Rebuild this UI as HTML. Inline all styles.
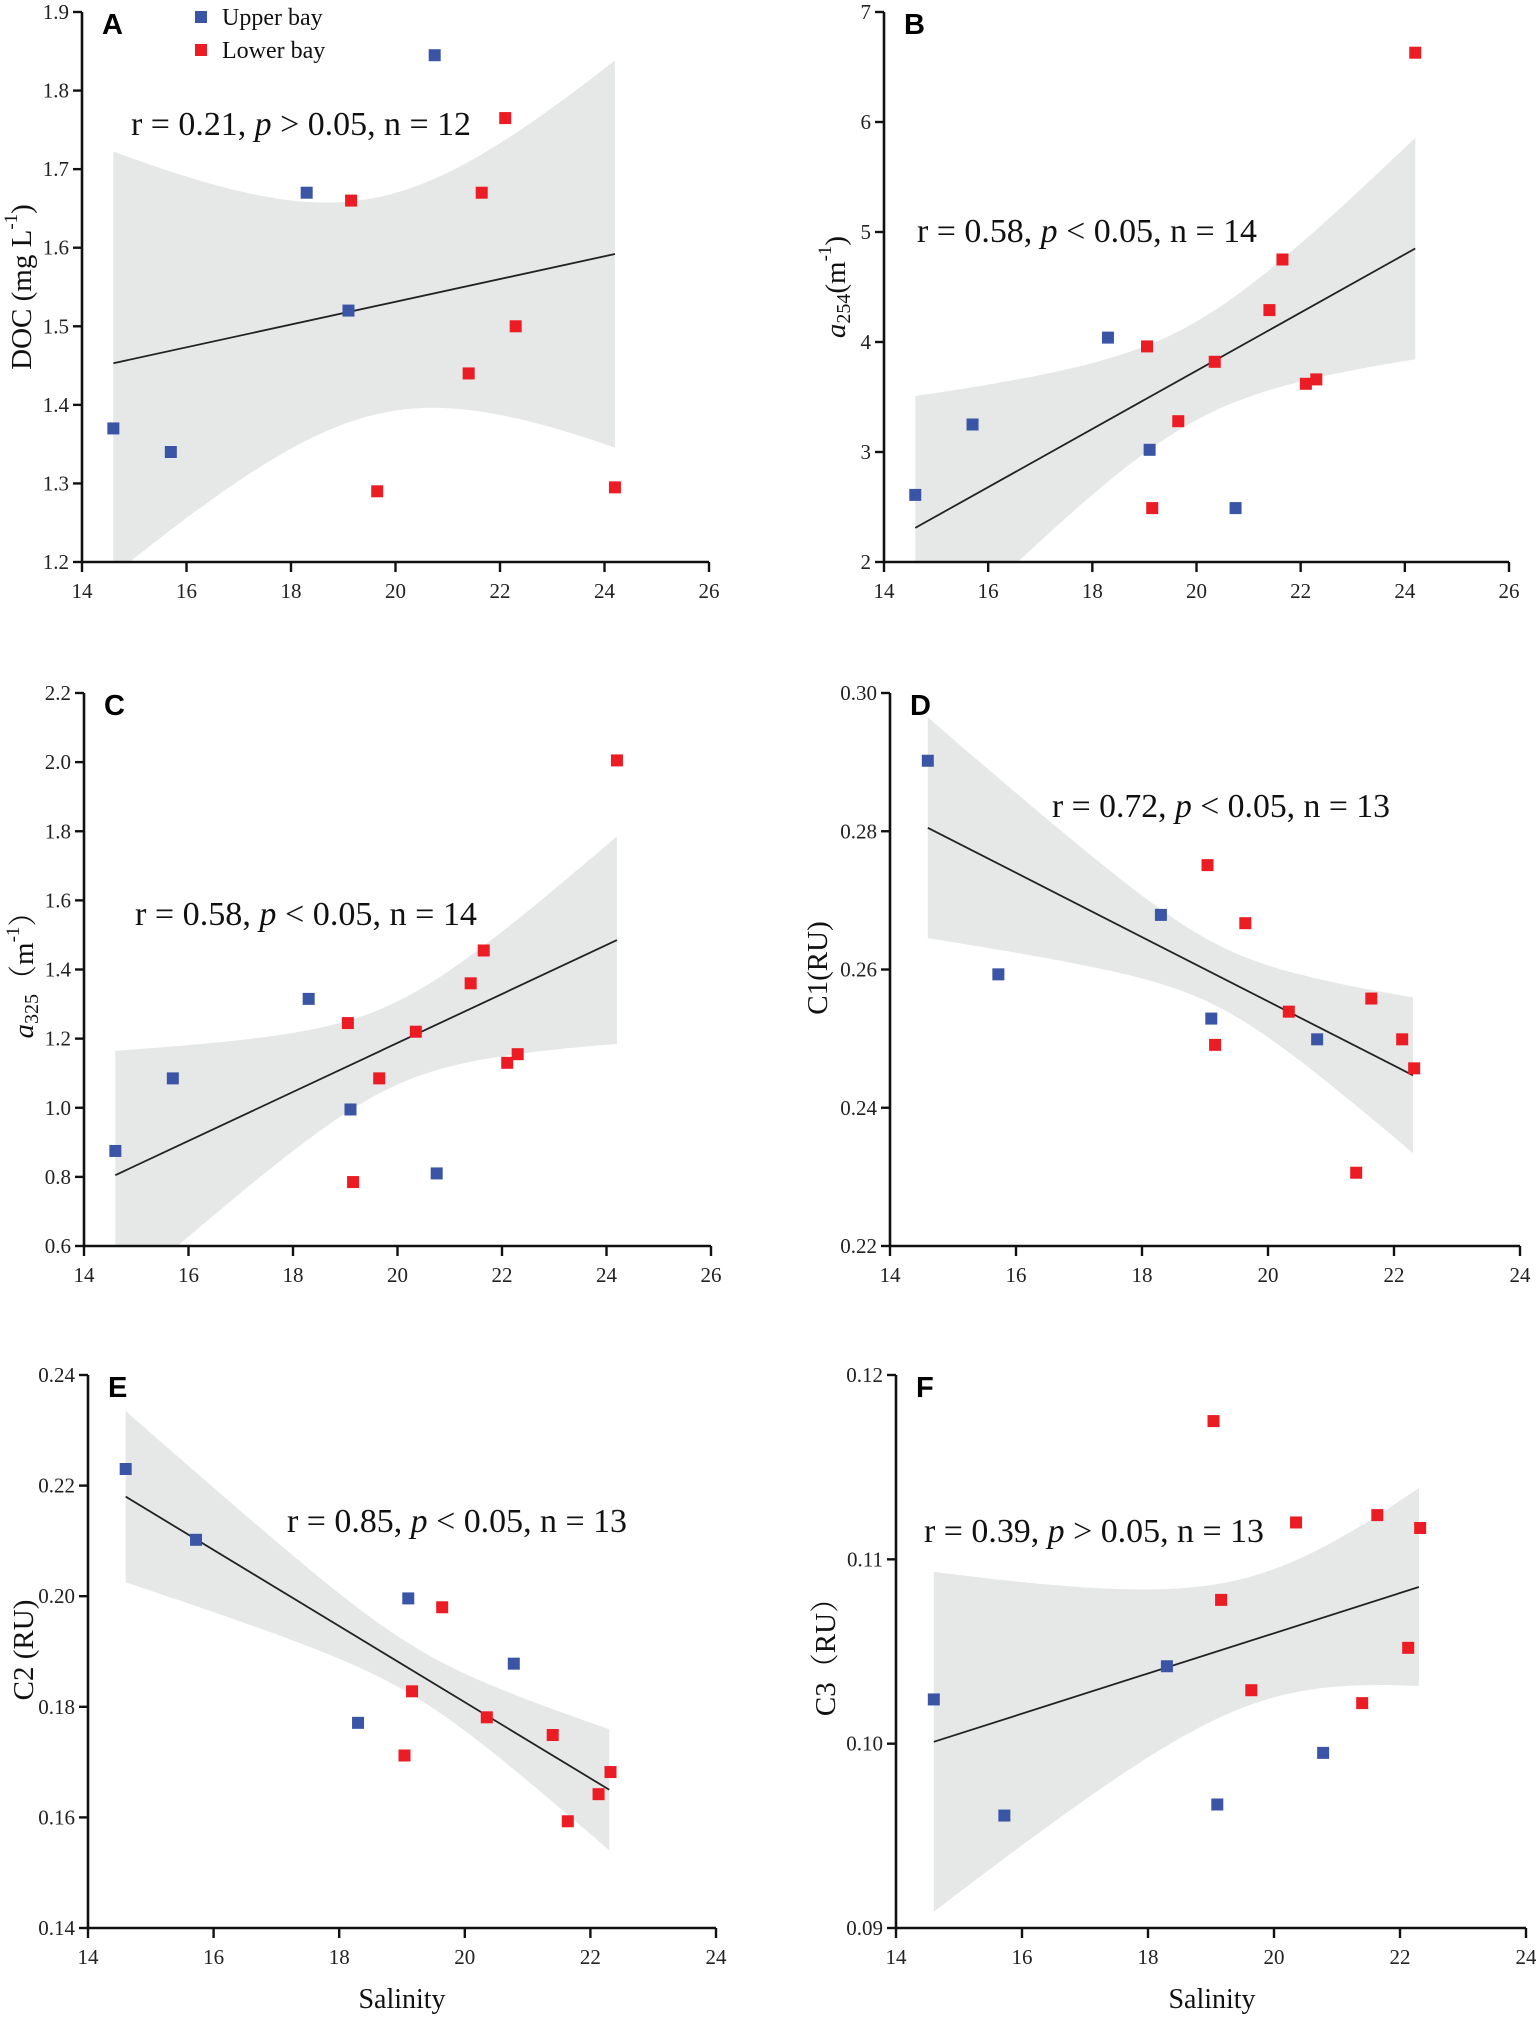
<!DOCTYPE html>
<html><head><meta charset="utf-8">
<style>
html,body{margin:0;padding:0;background:#fff;}
svg{display:block;}
.serif{font-family:"Liberation Serif","Noto Serif CJK SC",serif;}
.sans{font-family:"Liberation Sans",sans-serif;}
</style></head>
<body>
<svg id="fig" width="1536" height="2017" viewBox="0 0 1536 2017" xmlns="http://www.w3.org/2000/svg"></svg>
<script>
// ---- Data ----
// A: DOC
const aUpperSal = [14.6, 15.7, 18.3, 19.1, 20.75];
const aUpperVal = [1.37, 1.34, 1.67, 1.52, 1.845];
const aLowerSal = [19.15, 19.65, 21.4, 21.65, 22.1, 22.3, 24.2];
const aLowerVal = [1.66, 1.29, 1.44, 1.67, 1.765, 1.50, 1.295];
const aFit = [1.453, 1.592];
const aBand = [19.7, 0.019, 0.00206];

// B: a254
const bUpperSal = [14.6, 15.7, 18.3, 19.1, 20.75];
const bUpperVal = [2.61, 3.25, 4.04, 3.02, 2.49];
const bLowerSal = [19.05, 19.15, 19.65, 20.35, 21.4, 21.65, 22.1, 22.3, 24.2];
const bLowerVal = [3.96, 2.49, 3.28, 3.82, 4.29, 4.75, 3.62, 3.66, 6.63];
const bFit = [2.31, 4.85];
const bBand = [19.9, 0.2, 0.044];

// C: a325
const cUpperSal = [14.6, 15.7, 18.3, 19.1, 20.75];
const cUpperVal = [0.875, 1.085, 1.315, 0.995, 0.81];
const cLowerSal = [19.05, 19.15, 19.65, 20.35, 21.4, 21.65, 22.1, 22.3, 24.2];
const cLowerVal = [1.245, 0.785, 1.085, 1.22, 1.36, 1.455, 1.13, 1.155, 2.005];
const cFit = [0.805, 1.485];
const cBand = [19.9, 0.0144, 0.0041];

// D: C1
const dUpperSal = [14.6, 15.72, 18.3, 19.1, 20.78];
const dUpperVal = [0.2902, 0.2593, 0.2679, 0.2529, 0.2499];
const dLowerSal = [19.04, 19.16, 19.64, 20.33, 21.4, 21.64, 22.13, 22.32];
const dLowerVal = [0.2751, 0.2491, 0.2667, 0.2539, 0.2306, 0.2558, 0.2499, 0.2457];
const dFit = [0.2805, 0.2447];
const dBand = [19.2, 0.00002, 0.0000111];

// E: C2
const eUpperSal = [14.6, 15.72, 18.3, 19.1, 20.78];
const eUpperVal = [0.223, 0.2102, 0.1771, 0.1996, 0.1878];
const eLowerSal = [19.04, 19.16, 19.64, 20.35, 21.4, 21.64, 22.13, 22.32];
const eLowerVal = [0.1712, 0.1828, 0.198, 0.1781, 0.1749, 0.1593, 0.1642, 0.1682];
const eFit = [0.218, 0.165];
const eBand = [19.2, 0.00002, 0.0000104];

// F: C3
const fUpperSal = [14.6, 15.72, 18.3, 19.1, 20.78];
const fUpperVal = [0.1024, 0.0961, 0.1042, 0.0967, 0.0995];
const fLowerSal = [19.04, 19.16, 19.64, 20.35, 21.4, 21.64, 22.13, 22.32];
const fLowerVal = [0.1175, 0.1078, 0.1029, 0.112, 0.1022, 0.1124, 0.1052, 0.1117];
const fFit = [0.1001, 0.1085];
const fBand = [19.8, 0.000012, 0.0000027];

const xTicksWide = [14, 16, 18, 20, 22, 24, 26];
const xTicksNarrow = [14, 16, 18, 20, 22, 24];
const aYTicks = ["1.2","1.3","1.4","1.5","1.6","1.7","1.8","1.9"];
const bYTicks = ["2","3","4","5","6","7"];
const cYTicks = ["0.6","0.8","1.0","1.2","1.4","1.6","1.8","2.0","2.2"];
const dYTicks = ["0.22","0.24","0.26","0.28","0.30"];
const eYTicks = ["0.14","0.16","0.18","0.20","0.22","0.24"];
const fYTicks = ["0.09","0.10","0.11","0.12"];

const NS = "http://www.w3.org/2000/svg";
const fig = document.getElementById('fig');
function mk(tag, attrs, parent){
  const e = document.createElementNS(NS, tag);
  for (const k in attrs) e.setAttribute(k, attrs[k]);
  (parent||fig).appendChild(e);
  return e;
}

const panels = [
  {id:'a', letter:'A', x0:82, x1:709, yT:12, yB:562, xmin:14, xmax:26, xt:xTicksWide, yt:aYTicks,
   us:aUpperSal, uv:aUpperVal, ls:aLowerSal, lv:aLowerVal, fit:aFit, band:aBand, fx:[14.6,24.2],
   ann:'0.21', op:'>', n:'12', annX:131, annY:135, annW:340},
  {id:'b', letter:'B', x0:884, x1:1509, yT:12, yB:562, xmin:14, xmax:26, xt:xTicksWide, yt:bYTicks,
   us:bUpperSal, uv:bUpperVal, ls:bLowerSal, lv:bLowerVal, fit:bFit, band:bBand, fx:[14.6,24.2],
   ann:'0.58', op:'<', n:'14', annX:917, annY:242, annW:340},
  {id:'c', letter:'C', x0:84, x1:711, yT:693, yB:1246, xmin:14, xmax:26, xt:xTicksWide, yt:cYTicks,
   us:cUpperSal, uv:cUpperVal, ls:cLowerSal, lv:cLowerVal, fit:cFit, band:cBand, fx:[14.6,24.2],
   ann:'0.58', op:'<', n:'14', annX:135, annY:925, annW:342},
  {id:'d', letter:'D', x0:890, x1:1520, yT:693, yB:1246, xmin:14, xmax:24, xt:xTicksNarrow, yt:dYTicks,
   us:dUpperSal, uv:dUpperVal, ls:dLowerSal, lv:dLowerVal, fit:dFit, band:dBand, fx:[14.6,22.3],
   ann:'0.72', op:'<', n:'13', annX:1052, annY:817, annW:338},
  {id:'e', letter:'E', x0:88, x1:716, yT:1375, yB:1928, xmin:14, xmax:24, xt:xTicksNarrow, yt:eYTicks,
   us:eUpperSal, uv:eUpperVal, ls:eLowerSal, lv:eLowerVal, fit:eFit, band:eBand, fx:[14.6,22.3],
   ann:'0.85', op:'<', n:'13', annX:287, annY:1532, annW:340},
  {id:'f', letter:'F', x0:896, x1:1526, yT:1375, yB:1928, xmin:14, xmax:24, xt:xTicksNarrow, yt:fYTicks,
   us:fUpperSal, uv:fUpperVal, ls:fLowerSal, lv:fLowerVal, fit:fFit, band:fBand, fx:[14.6,22.3],
   ann:'0.39', op:'>', n:'13', annX:924, annY:1542, annW:340}
];

const ytitles = {
  a:{x:22,y:287}, b:{x:836,y:287}, c:{x:24,y:968}, d:{x:818,y:968}, e:{x:24,y:1650}, f:{x:826,y:1650}
};

panels.forEach(p=>{
  const g = mk('g', {});
  
  
  const ymin = parseFloat(p.yt[0]), ymax = parseFloat(p.yt[p.yt.length-1]);
  const X = v => p.x0 + (v - p.xmin) / (p.xmax - p.xmin) * (p.x1 - p.x0);
  const Y = v => p.yB - (v - ymin) / (ymax - ymin) * (p.yB - p.yT);
  const fitAt = s => p.fit[0] + (p.fit[1]-p.fit[0]) * (s - p.fx[0]) / (p.fx[1]-p.fx[0]);
  const hw = s => Math.sqrt(p.band[1] + p.band[2] * (s - p.band[0]) * (s - p.band[0]));

  const cp = mk('clipPath', {id:'clip-'+p.id}, g);
  mk('rect', {x:p.x0, y:p.yT - 2, width:p.x1-p.x0, height:p.yB-p.yT+2}, cp);

  let up = [], lo = [];
  const N = 60;
  for (let i=0;i<=N;i++){
    const s = p.fx[0] + (p.fx[1]-p.fx[0]) * i / N;
    up.push(X(s).toFixed(1)+','+Y(fitAt(s)+hw(s)).toFixed(1));
    lo.push(X(s).toFixed(1)+','+Y(fitAt(s)-hw(s)).toFixed(1));
  }
  const band = mk('polygon', {points: up.concat(lo.reverse()).join(' '), fill:'#e6e7e7', 'clip-path':'url(#clip-'+p.id+')'}, g);
  
  

  const ln = mk('line', {x1:X(p.fx[0]), y1:Y(fitAt(p.fx[0])), x2:X(p.fx[1]), y2:Y(fitAt(p.fx[1])), stroke:'#222', 'stroke-width':1.8}, g);
  
  

  p.us.forEach((s,i)=>{
    const r = mk('rect', {x:X(s)-6, y:Y(p.uv[i])-6, width:12, height:12, fill:'#3a55a5'}, g);
    
    
  });
  p.ls.forEach((s,i)=>{
    const r = mk('rect', {x:X(s)-6, y:Y(p.lv[i])-6, width:12, height:12, fill:'#ec1c24'}, g);
    
    
  });

  const ax = mk('path', {d:`M${p.x0},${p.yT} V${p.yB} H${p.x1}`, fill:'none', stroke:'#111', 'stroke-width':2.6}, g);
  
  
  p.yt.forEach(t=>{
    const y = Y(parseFloat(t));
    mk('line', {x1:p.x0-9, y1:y, x2:p.x0, y2:y, stroke:'#111', 'stroke-width':2.4}, g);
    const tx = mk('text', {x:p.x0-13, y:y+7, 'text-anchor':'end', class:'serif', 'font-size':21, fill:'#222'}, g);
    tx.textContent = t;
    
    
  });
  p.xt.forEach(t=>{
    const x = X(t);
    mk('line', {x1:x, y1:p.yB, x2:x, y2:p.yB+10, stroke:'#111', 'stroke-width':2.4}, g);
    const tx = mk('text', {x:x, y:p.yB+36, 'text-anchor':'middle', class:'serif', 'font-size':21, fill:'#222'}, g);
    tx.textContent = t;
    
    
  });

  const L = mk('text', {x:p.x0+20, y:p.yT+22, class:'sans', 'font-weight':'bold', 'font-size':29, fill:'#000'}, g);
  L.textContent = p.letter;
  
  

  const an = mk('text', {x:p.annX, y:p.annY, class:'serif', 'font-size':34, fill:'#111', textLength:p.annW, lengthAdjust:'spacingAndGlyphs'}, g);
  an.innerHTML = 'r = ' + p.ann + ', <tspan font-style="italic">p</tspan> ' + (p.op==='<'?'&lt;':'&gt;') + ' 0.05, n = ' + p.n;
  
  

  const yt = ytitles[p.id];
  const tt = mk('text', {x:0, y:0, transform:`translate(${yt.x},${yt.y}) rotate(-90)`, 'text-anchor':'middle', class:'serif', 'font-size':29, fill:'#111', 'dominant-baseline':'central'}, g);
  const titles = {
    a:'DOC (mg L<tspan dy="-11" font-size="19">-1</tspan><tspan dy="11">)</tspan>',
    b:'<tspan font-style="italic">a</tspan><tspan dy="8" font-size="20">254</tspan><tspan dy="-8">(m</tspan><tspan dy="-11" font-size="19">-1</tspan><tspan dy="11">)</tspan>',
    c:'<tspan font-style="italic">a</tspan><tspan dy="8" font-size="20">325</tspan><tspan dy="-8">（m</tspan><tspan dy="-11" font-size="19">-1</tspan><tspan dy="11">）</tspan>',
    d:'C1(RU)',
    e:'C2 (RU)',
    f:'C3（RU）'
  };
  tt.innerHTML = titles[p.id];
  
  
});

[[402,2008],[1212,2008]].forEach(pos=>{
  const t = mk('text', {x:pos[0], y:pos[1], 'text-anchor':'middle', class:'serif', 'font-size':28, fill:'#111'});
  t.textContent = 'Salinity';
  
  
});

const lg = mk('g', {});


const legendItems = [['Upper bay','#3a55a5',17],['Lower bay','#ec1c24',50]];
legendItems.forEach(it=>{
  const sw = mk('rect', {x:195, y:it[2]-6, width:12, height:12, fill:it[1]}, lg);
  
  
  const t = mk('text', {x:222, y:it[2]+8, class:'serif', 'font-size':24, fill:'#111'}, lg);
  t.textContent = it[0];
  
  
});
</script>
</body></html>
